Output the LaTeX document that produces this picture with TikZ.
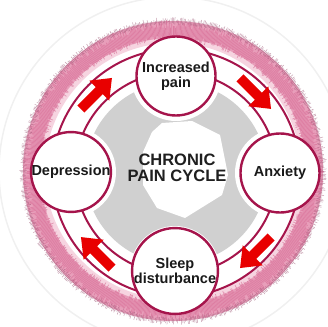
\documentclass[tikz,border=0pt]{standalone}
\usepackage{fontspec}
\setmainfont{Liberation Sans}
\usetikzlibrary{calc,arrows.meta}
\definecolor{ringred}{RGB}{165,20,75}
\definecolor{arrowred}{RGB}{232,0,0}
\definecolor{pinkpale}{RGB}{246,212,224}
\definecolor{pinklight}{RGB}{232,158,186}
\definecolor{pinkmid}{RGB}{214,104,146}
\definecolor{pinkdark}{RGB}{150,78,110}
\definecolor{graybg}{RGB}{208,208,208}

\begin{document}
\begin{tikzpicture}[x=1pt, y=1pt,
    stage/.style={circle, draw=ringred, line width=2.4pt, fill=white, minimum size=79pt, inner sep=0pt,
        align=center, font=\bfseries\fontsize{14.5}{15}\selectfont, text=black!90},
    cyclearrow/.style={arrowred, line width=10pt, -{Triangle[width=27pt, length=18pt]}}]
    \useasboundingbox (-176,-153) rectangle (152,173);
    \coordinate (O) at (0,0);
    \coordinate (F) at (-3,2);
    \pgfmathsetseed{11}
    
    \draw[gray!12, line width=1.5pt] (F) circle (174);
    % fuzzy pink band
    \fill[pinkpale, even odd rule] (F) circle (150) (F) circle (128);
    \fill[pinklight, even odd rule] (F) circle (150) (F) circle (133);
    \foreach \a in {0,0.5,...,359.5} {
        \pgfmathsetmacro{\ri}{130+6*rnd}
        \pgfmathsetmacro{\ro}{143+8*rnd}
        \draw[pinkmid, line width=0.7pt, opacity=0.6] ($(F)+(\a:\ri)$) -- ($(F)+(\a:\ro)$);
    }
    \foreach \a in {0.25,0.75,...,359.75} {
        \pgfmathsetmacro{\ri}{146+3*rnd}
        \pgfmathsetmacro{\ro}{150+4*rnd}
        \draw[pinkdark, line width=0.5pt, opacity=0.55] ($(F)+(\a:\ri)$) -- ($(F)+(\a:\ro)$);
    }

    \fill[graybg] (O) circle (91);
    \fill[white] (-14,50) -- (16,52) -- (44,38) -- (52,-2) -- (46,-22) -- (9,-45) -- (-19,-35)
        -- (-33,-12) -- (-33,21) -- (-24,41) -- cycle;
    \begin{scope}
        \clip (O) circle (92);
        \foreach \p in {(0,97),(104,0),(-1,-98),(-105,1)} {\fill[white] \p circle (45);}
    \end{scope}
    
    \draw[ringred, line width=2pt] (O) circle (101);
    \draw[ringred, line width=2pt] (O) circle (124);

    \foreach \a in {135,45,-45,-135} {
        \draw[cyclearrow] ($(O)+(\a:112.5)+(\a-90:-22)$) -- ($(O)+(\a:112.5)+(\a-90:22)$);
    }

    \node[stage] (pain) at (0,97) {Increased\\pain};
    \node[stage] (anxiety) at (104,0) {Anxiety};
    \node[stage] (sleep) at (-1,-98) {Sleep\\disturbance};
    \node[stage] (depression) at (-105,1) {Depression};
    \node[font=\bfseries\fontsize{16.5}{16}\selectfont, align=center, text=black!88] (cycle) at (1,5) {CHRONIC\\PAIN CYCLE};
\end{tikzpicture}
\end{document}
